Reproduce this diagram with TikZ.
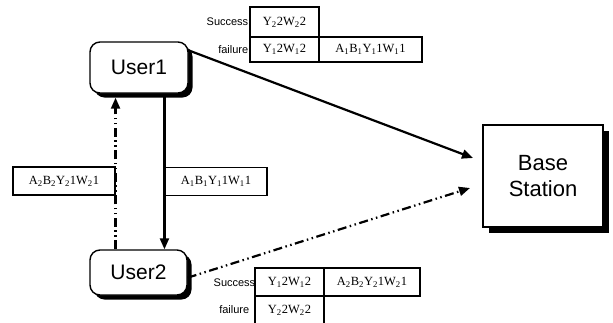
\documentclass[tikz,border=0pt]{standalone}
\usepackage{fontspec}
\setmainfont{Liberation Sans}
\newfontfamily\tms{Liberation Serif}
\usetikzlibrary{arrows.meta,shadows,calc}
\newcommand\sbx[1]{\textsubscript{#1}}
\begin{document}
\begin{tikzpicture}[x=1pt,y=-1pt,
  user/.style={draw, line width=1.4pt, rounded corners=10pt, fill=white,
    minimum width=98pt, minimum height=51pt, inner sep=0pt,
    font=\fontsize{21}{24}\selectfont,
    drop shadow={shadow xshift=4.5pt, shadow yshift=-4.5pt, opacity=1, fill=black}},
  bsbox/.style={draw, line width=1.2pt, fill=white, minimum width=120pt, minimum height=102pt,
    inner sep=0pt, align=center, font=\fontsize{22}{26}\selectfont,
    drop shadow={shadow xshift=6pt, shadow yshift=-6pt, opacity=1, fill=black}},
  lbl/.style={draw, line width=1.1pt, fill=white, minimum width=102pt, minimum height=28pt,
    inner sep=0pt, font=\tms\fontsize{12.5}{14}\selectfont},
  cell/.style={draw, line width=1.1pt, inner sep=0pt, font=\tms\fontsize{12.5}{14}\selectfont},
  side/.style={inner sep=1pt, font=\fontsize{11}{12}\selectfont},
  arr/.style={line width=2.2pt, -{Triangle[length=11pt,width=9pt]}},
  ddot/.style={dash pattern=on 9pt off 3.5pt on 1.5pt off 3.5pt on 1.5pt off 3.5pt}
]
\useasboundingbox (0,0) rectangle (613,322);

\node[user] (u1) at (139,67.5) {User1};
\node[user, minimum width=97pt, minimum height=45pt] (u2) at (138.5,272.5) {User2};
\node[bsbox] (bs) at (543,176) {Base\\Station};

\coordinate (t1) at (473,158);
\coordinate (t2) at (470,188);

\node[lbl] (ll) at (64,181) {A\sbx{2}B\sbx{2}Y\sbx{2}1W\sbx{2}1};
\node[lbl] (lr) at (216,181.5) {A\sbx{1}B\sbx{1}Y\sbx{1}1W\sbx{1}1};

\draw[arr] (u1.19) -- (t1);
\draw[arr, ddot] (u2.-6) -- (t2);
\draw[arr] (u1.south -| lr.west) -- (u2.north -| lr.west);
\draw[arr, ddot, shorten >=4pt] (u2.north -| ll.east) -- (u1.south -| ll.east);

% top table
\node[cell, minimum width=69pt, minimum height=30pt] (t11) at (284.5,22) {Y\sbx{2}2W\sbx{2}2};
\node[cell, minimum width=69pt, minimum height=25pt] (t21) at (284.5,49.5) {Y\sbx{1}2W\sbx{1}2};
\node[cell, minimum width=103pt, minimum height=25pt] (t22) at (370.5,49.5) {A\sbx{1}B\sbx{1}Y\sbx{1}1W\sbx{1}1};
\node[side, anchor=east] (s1) at (t11.west) {Success};
\node[side, anchor=east] (f1) at (t21.west) {failure};

% bottom table
\node[cell, minimum width=69pt, minimum height=28pt] (b11) at (289.5,282) {Y\sbx{1}2W\sbx{1}2};
\node[cell, minimum width=96pt, minimum height=28pt] (b12) at (372,282) {A\sbx{2}B\sbx{2}Y\sbx{2}1W\sbx{2}1};
\node[cell, minimum width=69pt, minimum height=28pt] (b21) at (289.5,310) {Y\sbx{2}2W\sbx{2}2};
\node[side, anchor=east] (s2) at ($(b11.west)+(2,1)$) {Success};
\node[side, anchor=east] (f2) at ($(b21.west)+(-4,0)$) {failure};
\end{tikzpicture}
\end{document}
